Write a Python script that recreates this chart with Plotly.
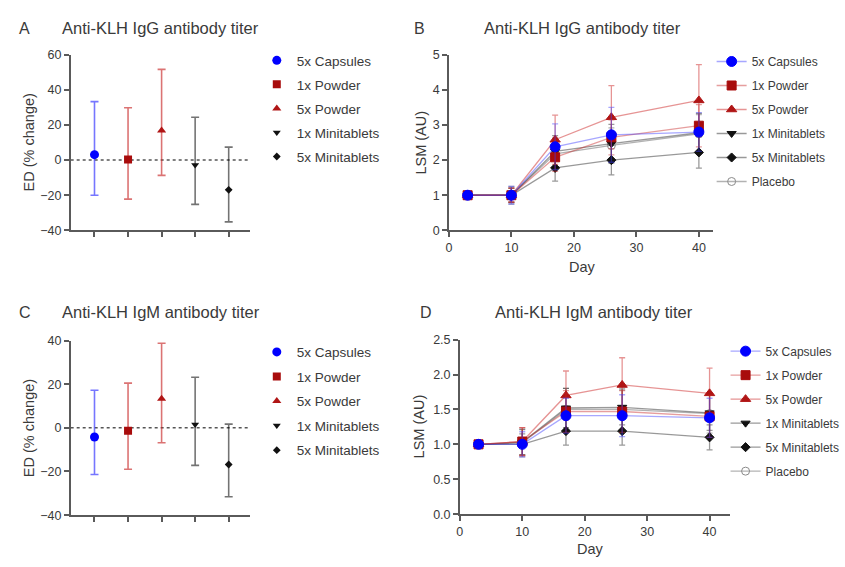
import plotly.graph_objects as go

# ---------------- data ----------------
groups = ["5x Capsules", "1x Powder", "5x Powder", "1x Minitablets", "5x Minitablets"]

# Effect difference (% change) with confidence limits
igg_ed = [3.1, 0.4, 16.9, -2.8, -16.9]
igg_ed_hi = [33.3, 29.8, 51.7, 24.4, 7.4]
igg_ed_lo = [-20.0, -22.2, -8.7, -25.2, -35.2]

igm_ed = [-4.2, -1.3, 13.3, 1.5, -16.8]
igm_ed_hi = [17.2, 20.5, 38.8, 23.2, 1.7]
igm_ed_lo = [-21.4, -19.0, -6.8, -17.2, -31.6]

days = [3, 10, 17, 26, 40]
series = ["5x Capsules", "1x Powder", "5x Powder", "1x Minitablets", "5x Minitablets", "Placebo"]

igg_lsm = {
    "5x Capsules":    [1.0, 1.0, 2.38, 2.72, 2.80],
    "1x Powder":      [1.0, 1.0, 2.08, 2.65, 2.98],
    "5x Powder":      [1.0, 1.0, 2.58, 3.22, 3.70],
    "1x Minitablets": [1.0, 1.0, 2.25, 2.47, 2.78],
    "5x Minitablets": [1.0, 1.0, 1.78, 2.00, 2.22],
    "Placebo":        [1.0, 1.0, 2.18, 2.42, 2.75],
}
igg_err = {
    "5x Capsules":    [0.0, 0.25, 0.65, 0.78, 0.55],
    "1x Powder":      [0.0, 0.20, 0.40, 0.50, 0.60],
    "5x Powder":      [0.0, 0.20, 0.70, 0.90, 1.02],
    "1x Minitablets": [0.0, 0.20, 0.45, 0.55, 0.55],
    "5x Minitablets": [0.0, 0.20, 0.38, 0.42, 0.45],
    "Placebo":        [0.0, 0.25, 0.45, 0.50, 0.55],
}

igm_lsm = {
    "5x Capsules":    [1.0, 1.00, 1.41, 1.41, 1.38],
    "1x Powder":      [1.0, 1.04, 1.47, 1.47, 1.40],
    "5x Powder":      [1.0, 1.04, 1.70, 1.85, 1.73],
    "1x Minitablets": [1.0, 1.03, 1.52, 1.53, 1.45],
    "5x Minitablets": [1.0, 1.00, 1.19, 1.19, 1.10],
    "Placebo":        [1.0, 1.02, 1.50, 1.50, 1.44],
}
igm_err = {
    "5x Capsules":    [0.0, 0.18, 0.25, 0.30, 0.28],
    "1x Powder":      [0.0, 0.20, 0.30, 0.30, 0.30],
    "5x Powder":      [0.0, 0.20, 0.35, 0.39, 0.36],
    "1x Minitablets": [0.0, 0.18, 0.28, 0.25, 0.25],
    "5x Minitablets": [0.0, 0.15, 0.20, 0.20, 0.18],
    "Placebo":        [0.0, 0.20, 0.30, 0.30, 0.28],
}

# ---------------- styles ----------------
TXT = "#3a3a3a"
AX = "#5a5a5a"
FONT = "Liberation Sans, Arial, sans-serif"

style = {
    "5x Capsules":    dict(color="#0000ff", symbol="circle", size=10,
                           line="rgba(60,60,255,0.45)", bar="rgba(60,60,255,0.7)"),
    "1x Powder":      dict(color="#a80c0c", symbol="square", size=9,
                           line="rgba(200,40,40,0.45)", bar="rgba(200,40,40,0.65)"),
    "5x Powder":      dict(color="#b01515", symbol="triangle-up", size=9,
                           line="rgba(210,60,60,0.55)", bar="rgba(200,40,40,0.65)"),
    "1x Minitablets": dict(color="#111111", symbol="triangle-down", size=8,
                           line="rgba(0,0,0,0.40)", bar="rgba(0,0,0,0.55)"),
    "5x Minitablets": dict(color="#111111", symbol="diamond", size=7,
                           line="rgba(0,0,0,0.40)", bar="rgba(0,0,0,0.55)"),
    "Placebo":        dict(color="#8a8a8a", symbol="circle-open", size=8,
                           line="rgba(0,0,0,0.30)", bar="rgba(0,0,0,0.35)"),
}

fig = go.Figure()

# ---------- panels A and C: effect differences ----------
def ed_panel(xa, ya, leg, mean, hi, lo):
    for i, g in enumerate(groups):
        s = style[g]
        fig.add_trace(go.Scatter(
            x=[g], y=[mean[i]], mode="markers", name=g,
            xaxis=xa, yaxis=ya, legend=leg, legendgroup=leg + str(i), legendrank=i,
            marker=dict(color=s["color"], symbol=s["symbol"], size=s["size"] - 1),
            error_y=dict(type="data", symmetric=False,
                         array=[hi[i] - mean[i]], arrayminus=[mean[i] - lo[i]],
                         color=s["bar"], thickness=1.6, width=4),
        ))

ed_panel("x", "y", "legend", igg_ed, igg_ed_hi, igg_ed_lo)
ed_panel("x3", "y3", "legend3", igm_ed, igm_ed_hi, igm_ed_lo)

# ---------- panels B and D: time courses ----------
# drawn back to front so the first series sits on top; legendrank keeps the legend order
def lsm_panel(xa, ya, leg, vals, errs):
    for i in reversed(range(len(series))):
        g = series[i]
        s = style[g]
        fig.add_trace(go.Scatter(
            x=days, y=vals[g], mode="lines+markers", name=g,
            xaxis=xa, yaxis=ya, legend=leg, legendgroup=leg + str(i), legendrank=i,
            line=dict(color=s["line"], width=1.3),
            marker=dict(color=s["color"], symbol=s["symbol"], size=s["size"],
                        line=dict(color=s["color"], width=1)),
            error_y=dict(type="data", array=errs[g], color=s["line"], thickness=1.3, width=3),
        ))

lsm_panel("x2", "y2", "legend2", igg_lsm, igg_err)
lsm_panel("x4", "y4", "legend4", igm_lsm, igm_err)

# ---------- axes ----------
W, H = 845, 567
def px_x(a, b):
    return [a / W, b / W]
def px_y(top, bottom):
    return [1 - bottom / H, 1 - top / H]

common = dict(showline=True, linecolor=AX, linewidth=1.6, ticks="outside", ticklen=5,
              tickwidth=1.5, tickcolor=AX, showgrid=False, zeroline=False,
              tickfont=dict(family=FONT, size=12.5, color=TXT), fixedrange=True)

fig.update_layout(
    xaxis=dict(domain=px_x(68, 248), anchor="y", type="category", range=[-0.71, 4.63],
               showticklabels=False, **common),
    yaxis=dict(domain=px_y(49, 229), anchor="x", range=[-40, 60], dtick=20, **common),
    xaxis2=dict(domain=px_x(448, 713), anchor="y2", range=[0, 42.2], dtick=10, **common),
    yaxis2=dict(domain=px_y(49, 229), anchor="x2", range=[0, 5], dtick=1, **common),
    xaxis3=dict(domain=px_x(68, 248), anchor="y3", type="category", range=[-0.71, 4.63],
                showticklabels=False, **common),
    yaxis3=dict(domain=px_y(342, 521), anchor="x3", range=[-40, 40], dtick=20, **common),
    xaxis4=dict(domain=px_x(459, 730), anchor="y4", range=[0, 43.2], dtick=10, **common),
    yaxis4=dict(domain=px_y(341, 520), anchor="x4", range=[0, 2.5], dtick=0.5,
                tickformat=".1f", **common),
)

# dotted zero reference in the effect-difference panels
for xr, yr in [("x domain", "y"), ("x3 domain", "y3")]:
    fig.add_shape(type="line", xref=xr, yref=yr, x0=0, x1=1, y0=0, y1=0,
                  line=dict(color="#555555", width=1.5, dash="dot"), layer="below")

# ---------- legends ----------
def leg(xpx, ypx, size, gap):
    return dict(x=xpx / W, y=1 - ypx / H, xanchor="left", yanchor="top",
                bgcolor="rgba(0,0,0,0)", tracegroupgap=gap, traceorder="grouped",
                font=dict(family=FONT, size=size, color=TXT))

fig.update_layout(
    legend=leg(255, 39, 13.5, 3.5),
    legend2=leg(712, 41, 12, 5),
    legend3=leg(255, 338, 13.5, 4),
    legend4=leg(726, 338, 12, 5),
)

# ---------- titles, panel letters, axis labels ----------
ann = []
def text(x, y, t, size, angle=0, xanchor="center"):
    ann.append(dict(x=x / W, y=1 - y / H, xref="paper", yref="paper", text=t,
                    showarrow=False, textangle=angle, xanchor=xanchor, yanchor="middle",
                    font=dict(family=FONT, size=size, color=TXT)))

title_igg = "Anti-KLH IgG antibody titer"
title_igm = "Anti-KLH IgM antibody titer"
text(22, 22, "A", 16)
text(158, 22, title_igg, 16.5)
text(418, 22, "B", 16)
text(582, 22, title_igg, 16.5)
text(22, 313, "C", 16)
text(159, 313, title_igm, 16.5)
text(425, 313, "D", 16)
text(594, 313, title_igm, 16.5)

text(26, 139, "ED (% change)", 14.5, angle=-90)
text(26, 432, "ED (% change)", 14.5, angle=-90)
text(420, 139, "LSM (AU)", 14.5, angle=-90)
text(418, 430, "LSM (AU)", 14.5, angle=-90)
text(582, 267, "Day", 14.5)
text(590, 556, "Day", 14.5)

fig.update_layout(
    annotations=ann,
    width=W, height=H,
    margin=dict(l=0, r=0, t=0, b=0),
    paper_bgcolor="white", plot_bgcolor="white",
    showlegend=True,
    font=dict(family=FONT, color=TXT),
)

fig.write_html("out.html", config={"displayModeBar": False})
